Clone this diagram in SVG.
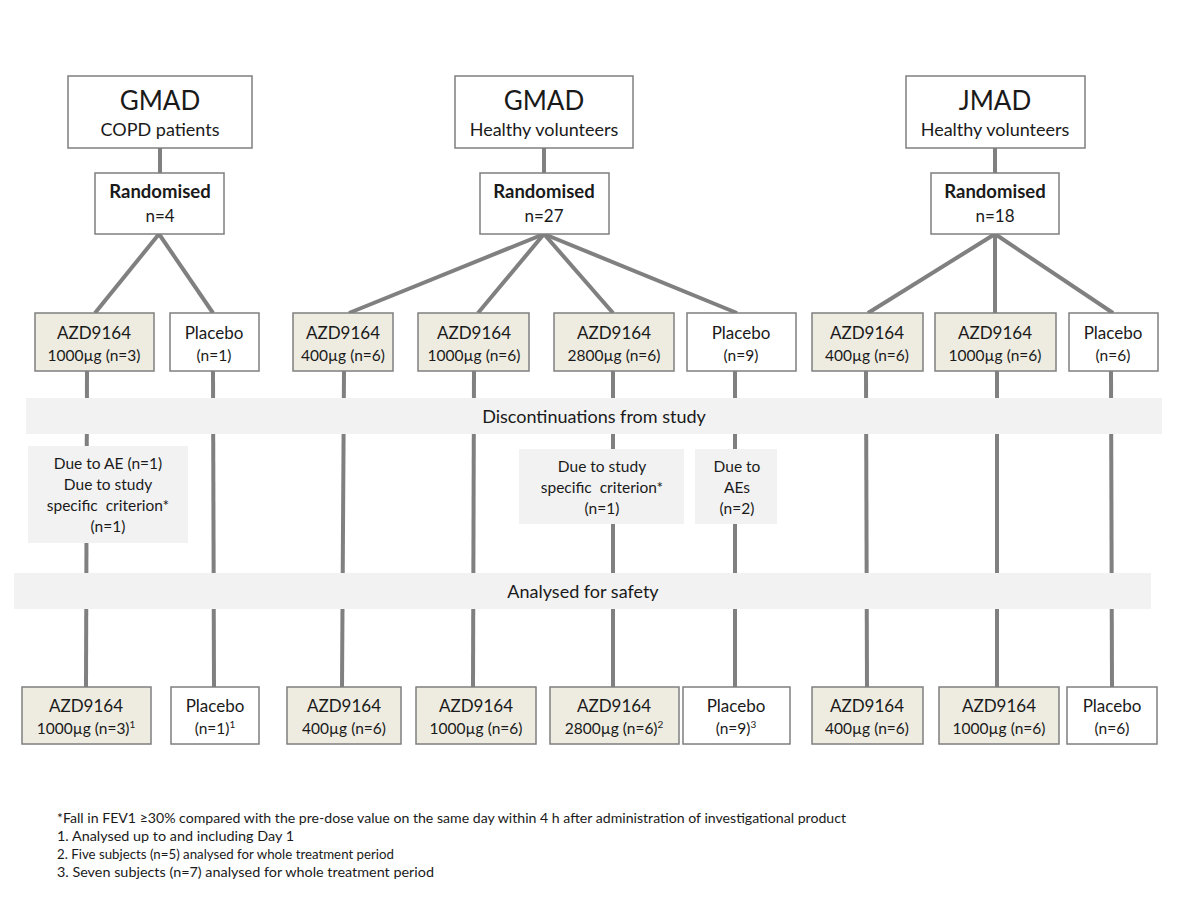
<svg xmlns="http://www.w3.org/2000/svg" width="1200" height="900" viewBox="0 0 1200 900">
<style>
.bx{fill:#fff;stroke:#7f7f7f;stroke-width:1.5}
.az{fill:#eeece1;stroke:#7f7f7f;stroke-width:1.5}
.band{fill:#f2f2f2}
.ln{stroke:#808080;stroke-width:4;fill:none}
text{font-family:Lato,"Open Sans","Liberation Sans",sans-serif;fill:#1a1a1a;text-anchor:middle}
.big{font-size:26px}
.sub{font-size:18px}
.rb{font-size:18.5px;font-weight:bold}
.rn{font-size:17px}
.t1{font-size:17px}
.t2{font-size:15.5px}
.d{font-size:15.5px}
.bt{font-size:18px}
.fn{font-size:13px;text-anchor:start}
.sup{font-size:10px}
</style>
<rect width="1200" height="900" fill="#fff"/>
<g id="connectors">
<line class="ln" x1="160" y1="148" x2="160" y2="173"/>
<line class="ln" x1="544" y1="148" x2="544" y2="173"/>
<line class="ln" x1="995" y1="148" x2="995" y2="173"/>
<line class="ln" x1="159" y1="234" x2="95" y2="313"/>
<line class="ln" x1="159" y1="234" x2="213" y2="313"/>
<line class="ln" x1="544" y1="234" x2="349" y2="313"/>
<line class="ln" x1="544" y1="234" x2="478" y2="313"/>
<line class="ln" x1="544" y1="234" x2="613" y2="313"/>
<line class="ln" x1="544" y1="234" x2="737" y2="313"/>
<line class="ln" x1="995" y1="234" x2="868" y2="313"/>
<line class="ln" x1="995" y1="234" x2="995" y2="313"/>
<line class="ln" x1="995" y1="234" x2="1113" y2="313"/>
<line class="ln" x1="87" y1="371" x2="86" y2="687"/>
<line class="ln" x1="213" y1="371" x2="214" y2="687"/>
<line class="ln" x1="344" y1="371" x2="342" y2="687"/>
<line class="ln" x1="474" y1="371" x2="473" y2="687"/>
<line class="ln" x1="613" y1="371" x2="613" y2="687"/>
<line class="ln" x1="735" y1="371" x2="735" y2="687"/>
<line class="ln" x1="866" y1="371" x2="867" y2="687"/>
<line class="ln" x1="997" y1="371" x2="997" y2="687"/>
<line class="ln" x1="1111" y1="371" x2="1112" y2="687"/>
</g>
<g id="band-disc">
<rect class="band" x="26" y="398" width="1136" height="36"/>
<text class="bt" x="594" y="423">Discontinuations from study</text>
</g>
<g id="band-safety">
<rect class="band" x="14" y="573" width="1137" height="36"/>
<text class="bt" x="583" y="598">Analysed for safety</text>
</g>
<g id="top1"><rect class="bx" x="68" y="76" width="184" height="72"/><text class="big" x="160" y="110">GMAD</text><text class="sub" x="160" y="136">COPD patients</text></g>
<g id="top2"><rect class="bx" x="455" y="76" width="178" height="72"/><text class="big" x="544" y="110">GMAD</text><text class="sub" x="544" y="136">Healthy volunteers</text></g>
<g id="top3"><rect class="bx" x="906" y="76" width="179" height="72"/><text class="big" x="995" y="110">JMAD</text><text class="sub" x="995" y="136">Healthy volunteers</text></g>
<g id="rand1"><rect class="bx" x="95" y="173" width="129" height="61"/><text class="rb" x="160" y="198">Randomised</text><text class="rn" x="160" y="222">n=4</text></g>
<g id="rand2"><rect class="bx" x="480" y="173" width="129" height="61"/><text class="rb" x="544" y="198">Randomised</text><text class="rn" x="544" y="222">n=27</text></g>
<g id="rand3"><rect class="bx" x="931" y="173" width="128" height="61"/><text class="rb" x="995" y="198">Randomised</text><text class="rn" x="995" y="222">n=18</text></g>
<g id="arm1"><rect class="az" x="35" y="313" width="119" height="58"/><text class="t1" x="94" y="339">AZD9164</text><text class="t2" x="94" y="361">1000µg (n=3)</text></g>
<g id="arm2"><rect class="bx" x="170" y="313" width="89" height="58"/><text class="t1" x="214" y="339">Placebo</text><text class="t2" x="214" y="361">(n=1)</text></g>
<g id="arm3"><rect class="az" x="293" y="313" width="100" height="58"/><text class="t1" x="343" y="339">AZD9164</text><text class="t2" x="343" y="361">400µg (n=6)</text></g>
<g id="arm4"><rect class="az" x="418" y="313" width="111" height="58"/><text class="t1" x="474" y="339">AZD9164</text><text class="t2" x="474" y="361">1000µg (n=6)</text></g>
<g id="arm5"><rect class="az" x="554" y="313" width="120" height="58"/><text class="t1" x="614" y="339">AZD9164</text><text class="t2" x="614" y="361">2800µg (n=6)</text></g>
<g id="arm6"><rect class="bx" x="687" y="313" width="109" height="58"/><text class="t1" x="741" y="339">Placebo</text><text class="t2" x="741" y="361">(n=9)</text></g>
<g id="arm7"><rect class="az" x="812" y="313" width="111" height="58"/><text class="t1" x="867" y="339">AZD9164</text><text class="t2" x="867" y="361">400µg (n=6)</text></g>
<g id="arm8"><rect class="az" x="935" y="313" width="121" height="58"/><text class="t1" x="995" y="339">AZD9164</text><text class="t2" x="995" y="361">1000µg (n=6)</text></g>
<g id="arm9"><rect class="bx" x="1069" y="313" width="89" height="58"/><text class="t1" x="1113" y="339">Placebo</text><text class="t2" x="1113" y="361">(n=6)</text></g>
<g id="disc1"><rect class="band" x="28" y="446" width="160" height="97"/><text class="d" x="108" y="469">Due to AE (n=1)</text><text class="d" x="108" y="490">Due to study</text><text class="d" x="108" y="511">specific&#160; criterion*</text><text class="d" x="108" y="532">(n=1)</text></g>
<g id="disc2"><rect class="band" x="519" y="449" width="165" height="75"/><text class="d" x="602" y="472">Due to study</text><text class="d" x="602" y="493">specific&#160; criterion*</text><text class="d" x="602" y="514">(n=1)</text></g>
<g id="disc3"><rect class="band" x="695" y="449" width="82" height="75"/><text class="d" x="737" y="472">Due to</text><text class="d" x="737" y="493">AEs</text><text class="d" x="737" y="514">(n=2)</text></g>
<g id="res1"><rect class="az" x="22" y="687" width="129" height="57"/><text class="t1" x="86" y="712">AZD9164</text><text class="t2" x="86" y="734">1000µg (n=3)<tspan class="sup" dy="-6">1</tspan></text></g>
<g id="res2"><rect class="bx" x="171" y="687" width="88" height="57"/><text class="t1" x="215" y="712">Placebo</text><text class="t2" x="215" y="734">(n=1)<tspan class="sup" dy="-6">1</tspan></text></g>
<g id="res3"><rect class="az" x="287" y="687" width="114" height="57"/><text class="t1" x="344" y="712">AZD9164</text><text class="t2" x="344" y="734">400µg (n=6)</text></g>
<g id="res4"><rect class="az" x="416" y="687" width="120" height="57"/><text class="t1" x="476" y="712">AZD9164</text><text class="t2" x="476" y="734">1000µg (n=6)</text></g>
<g id="res5"><rect class="az" x="550" y="687" width="129" height="57"/><text class="t1" x="614" y="712">AZD9164</text><text class="t2" x="614" y="734">2800µg (n=6)<tspan class="sup" dy="-6">2</tspan></text></g>
<g id="res6"><rect class="bx" x="683" y="687" width="107" height="57"/><text class="t1" x="736" y="712">Placebo</text><text class="t2" x="736" y="734">(n=9)<tspan class="sup" dy="-6">3</tspan></text></g>
<g id="res7"><rect class="az" x="812" y="687" width="111" height="57"/><text class="t1" x="867" y="712">AZD9164</text><text class="t2" x="867" y="734">400µg (n=6)</text></g>
<g id="res8"><rect class="az" x="939" y="687" width="120" height="57"/><text class="t1" x="999" y="712">AZD9164</text><text class="t2" x="999" y="734">1000µg (n=6)</text></g>
<g id="res9"><rect class="bx" x="1067" y="687" width="90" height="57"/><text class="t1" x="1112" y="712">Placebo</text><text class="t2" x="1112" y="734">(n=6)</text></g>
<g id="footnotes">
<text class="fn" x="57" y="823" textLength="789" lengthAdjust="spacingAndGlyphs">*Fall in FEV1 ≥30% compared with the pre-dose value on the same day within 4 h after administration of investigational product</text>
<text class="fn" x="57" y="841" textLength="237" lengthAdjust="spacingAndGlyphs">1. Analysed up to and including Day 1</text>
<text class="fn" x="57" y="859" textLength="337" lengthAdjust="spacingAndGlyphs">2. Five subjects (n=5) analysed for whole treatment period</text>
<text class="fn" x="57" y="877" textLength="377" lengthAdjust="spacingAndGlyphs">3. Seven subjects (n=7) analysed for whole treatment period</text>
</g>
</svg>
